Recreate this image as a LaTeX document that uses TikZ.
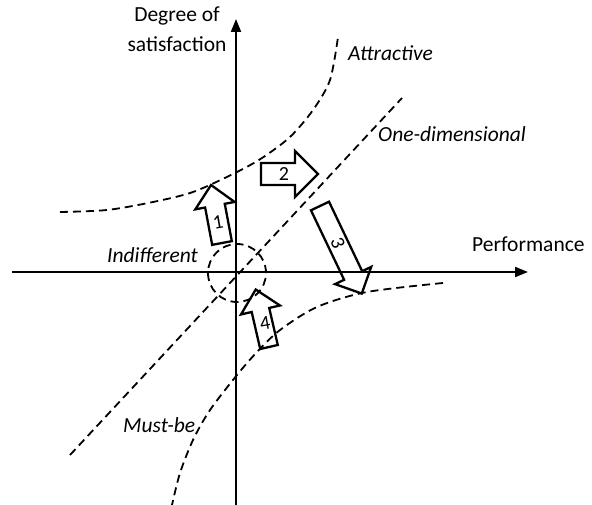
\documentclass[tikz,border=0pt]{standalone}
\usepackage{fontspec}
\setmainfont{Carlito}
\usetikzlibrary{arrows.meta}
\begin{document}
\begin{tikzpicture}[x=1pt,y=-1pt,
  axis/.style={line width=2pt,-{Triangle[length=13pt,width=10pt]}},
  curve/.style={line width=1.8pt,dash pattern=on 8pt off 5pt},
  blockarr/.style={line width=2.3pt,line join=miter},
  lbl/.style={font=\fontsize{21.5}{25}\selectfont\itshape,inner sep=0pt},
  axlbl/.style={font=\fontsize{21.5}{25}\selectfont,inner sep=0pt},
  num/.style={font=\fontsize{20}{24}\selectfont,inner sep=0pt}]
\useasboundingbox (0,0) rectangle (592,505);
\fill[white] (0,0) rectangle (592,505);
% axes
\coordinate (xs) at (12,272);
\coordinate (xe) at (528,272);
\coordinate (ys) at (236,505);
\coordinate (ye) at (236,19);
\draw[axis] (xs) -- (xe);
\draw[axis] (ys) -- (ye);
\node[axlbl,anchor=base] (deg) at (177,22) {Degree of};
\node[axlbl,anchor=base] (sat) at (177,52) {satisfaction};
\node[axlbl,anchor=base west] (perf) at (472,252) {Performance};
% curves
\draw[curve] plot[smooth] coordinates {(60,212) (107,210) (153,202) (193,192) (235,173) (262,158) (290,137) (313,110) (330,80) (338,37)};
\draw[curve] plot[smooth] coordinates {(443,283) (367,292) (317,307) (280,330) (257,352) (237,375) (210,410) (193,440) (180,473) (172,505)};
\coordinate (od1) at (70,455);
\coordinate (od2) at (402,98);
\draw[curve] (od1) -- (od2);
\node[curve,draw,circle,minimum size=58pt,inner sep=0pt] (ind) at (237,273) {};
% labels
\node[lbl,anchor=base west] (attr) at (348,61) {Attractive};
\node[lbl,anchor=base west] (onedim) at (378,142) {One-dimensional};
\node[lbl,anchor=base west] (indif) at (107,263) {Indifferent};
\node[lbl,anchor=base west] (must) at (123,432) {Must-be};
% block arrows
\begin{scope}[shift={(222,243)},rotate=100.7]
\draw[blockarr] (0,10) -- (38,10) -- (38,20) -- (59,0) -- (38,-20) -- (38,-10) -- (0,-10) -- cycle;
\end{scope}
\begin{scope}[shift={(261,174)},rotate=0]
\draw[blockarr] (0,11) -- (34,11) -- (34,23) -- (57,0) -- (34,-23) -- (34,-11) -- (0,-11) -- cycle;
\end{scope}
\begin{scope}[shift={(320,206)},rotate=-64.5]
\draw[blockarr] (0,10) -- (77,10) -- (77,20) -- (97,0) -- (77,-20) -- (77,-10) -- (0,-10) -- cycle;
\end{scope}
\begin{scope}[shift={(269,347)},rotate=103]
\draw[blockarr] (0,9) -- (38,9) -- (38,20) -- (59,0) -- (38,-20) -- (38,-9) -- (0,-9) -- cycle;
\end{scope}
\node[num,rotate=10] (n1) at (218,222) {1};
\node[num] (n2) at (284,174) {2};
\node[num,rotate=-70] (n3) at (338,243) {3};
\node[num,rotate=10] (n4) at (265,323) {4};
\end{tikzpicture}
\end{document}
